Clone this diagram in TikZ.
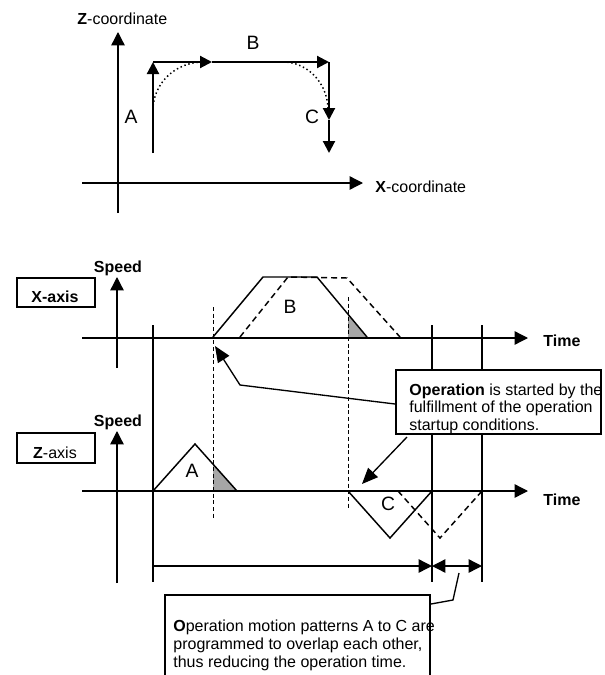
\documentclass[tikz,border=0pt]{standalone}
\usepackage{fontspec}
\setmainfont{Liberation Sans}
\usetikzlibrary{arrows.meta, calc}
\tikzset{every path/.style={semithick}}
\tikzset{
  axis/.style={line width=1pt, -{Triangle[length=10pt,width=10pt]}},
  move/.style={line width=1.6pt, -{Triangle[length=9pt,width=9pt]}},
  pointer/.style={line width=1pt, -{Triangle[length=12pt,width=10pt]}},
  dimline/.style={line width=1pt, -{Triangle[length=10pt,width=10pt]}},
  profile/.style={line width=1.1pt},
  shifted/.style={line width=1.1pt, dash pattern=on 4.5pt off 3pt},
  guide/.style={line width=0.8pt},
  cut/.style={line width=0.7pt, dash pattern=on 3pt off 2pt},
  tag/.style={draw, line width=1.5pt, fill=white, inner sep=0pt, anchor=north west},
  lbl/.style={inner sep=0pt},
  letter/.style={inner sep=0pt, font=\fontsize{14.5}{17}\selectfont}
}

\begin{document}
\begin{tikzpicture}[x=0.75pt, y=-0.75pt, font=\fontsize{12}{13.5}\selectfont]
  \useasboundingbox (0,0) rectangle (604,675);

  \draw[axis] (118,213) -- (118,32);
  \draw[axis] (82,183) -- (363,183);
  \node[lbl, anchor=base west] (zcoord) at (77,24) {\textbf{Z}-coordinate};
  \node[lbl, anchor=base west] (xcoord) at (375,192) {\textbf{X}-coordinate};

  \coordinate (a0) at (153,153);
  \coordinate (a1) at (153,62);
  \coordinate (b1) at (212,62);
  \coordinate (b2) at (329,62);
  \coordinate (c1) at (329,120);
  \coordinate (c2) at (329,153);
  \draw[line width=1.1pt, dotted] (153,110) arc[start angle=180, end angle=270, x radius=50, y radius=48];
  \draw[line width=1.1pt, dotted] (283,62) arc[start angle=270, end angle=360, x radius=45, y radius=48];
  \draw[move] (a0) -- (a1);
  \draw[move] (a1) -- (b1);
  \draw[move] (b1) -- (b2);
  \draw[move] (b2) -- (c1);
  \draw[move] (c1) -- (c2);
  \node[letter] (pa) at (131,117) {A};
  \node[letter] (pb) at (253,43) {B};
  \node[letter] (pc) at (312,117) {C};

  \node[tag, minimum width=58.5pt, minimum height=21.75pt] (xbox) at (16,277) {};
  \node[lbl, anchor=base] (xname) at (55,302) {\textbf{X-axis}};
  \node[tag, minimum width=58.5pt, minimum height=22.5pt] (zbox) at (16,432) {};
  \node[lbl, anchor=base] (zname) at (55,458) {\textbf{Z}-axis};

  \node[lbl, anchor=base] (speedx) at (118,272) {\textbf{Speed}};
  \node[lbl, anchor=base] (speedz) at (118,426) {\textbf{Speed}};
  \node[lbl, anchor=base west] (timex) at (543,346) {\textbf{Time}};
  \node[lbl, anchor=base west] (timez) at (543,505) {\textbf{Time}};

  \fill[gray!70] (348,337) -- (367,337) -- (348,314) -- cycle;
  \fill[gray!70] (213,491) -- (237,491) -- (213,464) -- cycle;

  \draw[axis] (82,338) -- (528,338);
  \draw[axis] (117,368) -- (117,277);
  \draw[axis] (82,491) -- (528,491);
  \draw[axis] (117,583) -- (117,431);

  \draw[guide] (153,325) -- (153,582);
  \draw[guide] (432,325) -- (432,582);
  \draw[guide] (482,325) -- (482,582);
  \draw[cut] (213,307) -- (213,519);
  \draw[cut] (348,297) -- (348,509);

  \draw[profile] (213,337) -- (263,277) -- (317,277) -- (367,337);
  \draw[shifted] (240,337) -- (288,277) -- (347,278) -- (400,337);
  \node[letter] (mb) at (290,307) {B};

  \draw[profile] (153,491) -- (195,444) -- (237,491);
  \node[letter] (ma) at (192,471) {A};
  \draw[profile] (348,491) -- (390,538) -- (432,491);
  \draw[shifted] (398,491) -- (440,538) -- (482,491);
  \node[letter] (mc) at (388,504) {C};

  \draw[dimline] (153,566) -- (432,566);
  \draw[dimline, {Triangle[length=10pt,width=10pt]}-{Triangle[length=10pt,width=10pt]}] (432,566) -- (482,566);

  \node[tag, minimum width=153.75pt, minimum height=48pt] (startbox) at (395,369) {};
  \node[lbl, anchor=north west, align=left] (starttext) at (409,383)
    {\textbf{Operation} is started by the\\fulfillment of the operation\\startup conditions.};
  \coordinate (s1) at (240,385);
  \coordinate (s2) at (215,346);
  \coordinate (s3) at (362,484);
  \draw[pointer] ($(startbox.north west)+(0,35)$) -- (s1) -- (s2);
  \draw[pointer] ($(startbox.south west)+(12,2)$) -- (s3);

  \node[tag, minimum width=198.75pt, minimum height=70pt] (overlapbox) at (164,594) {};
  \node[lbl, anchor=north west, align=left] (overlaptext) at (173,619)
    {\textbf{O}peration motion patterns A to C are\\programmed to overlap each other,\\thus reducing the operation time.};
  \coordinate (k1) at (453,600);
  \coordinate (k2) at (459,573);
  \draw[line width=1pt] ($(overlapbox.north east)+(0,10)$) -- (k1) -- (k2);
\end{tikzpicture}
\end{document}
